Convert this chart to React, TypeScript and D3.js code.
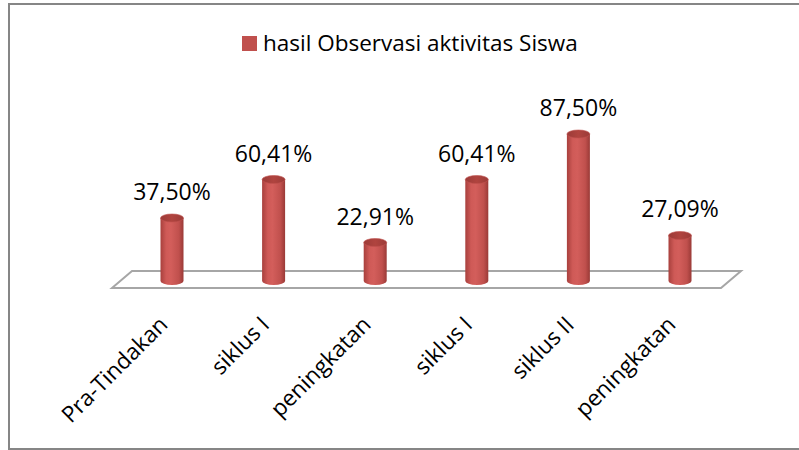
import React from "react";
import * as d3 from "d3";

const categories = ["Pra-Tindakan", "siklus I", "peningkatan", "siklus I", "siklus II", "peningkatan"];
const values = [37.5, 60.41, 22.91, 60.41, 87.5, 27.09];
const valueLabels = ["37,50%", "60,41%", "22,91%", "60,41%", "87,50%", "27,09%"];
const seriesName = "hasil Observasi aktivitas Siswa";

const W = 799;
const H = 450;
const FONT = "'Open Sans', 'Noto Sans', sans-serif";

export default function App() {
  const idx = categories.map((_, i) => i);
  const x = d3.scalePoint<number>().domain(idx).range([172, 680]);
  const y = d3.scaleLinear().domain([0, 100]).range([281, 113]);
  const rx = 11.5;
  const ry = 4;
  const base = y(0);

  // floor parallelogram
  const floor = d3.path();
  floor.moveTo(112, 288);
  floor.lineTo(132, 271);
  floor.lineTo(741, 271);
  floor.lineTo(721, 288);
  floor.closePath();

  return (
    <svg width={W} height={H} style={{ position: "absolute", left: 0, top: 0, background: "#fff" }}>
      <defs>
        <linearGradient id="cyl" x1="0" x2="1" y1="0" y2="0">
          <stop offset="0" stopColor="#a8403d" />
          <stop offset="0.25" stopColor="#cf5a57" />
          <stop offset="0.45" stopColor="#d35e5b" />
          <stop offset="0.8" stopColor="#c0504d" />
          <stop offset="1" stopColor="#9a3a37" />
        </linearGradient>
        <linearGradient id="cylTop" x1="0" x2="1" y1="0" y2="0">
          <stop offset="0" stopColor="#9c3b38" />
          <stop offset="0.5" stopColor="#b0443f" />
          <stop offset="1" stopColor="#9c3b38" />
        </linearGradient>
      </defs>
      <rect x={9} y={4} width={800} height={445} fill="#fff" stroke="#868686" strokeWidth={2} />

      {/* legend */}
      <rect x={242} y={36} width={15} height={15} fill="#c0504d" />
      <text x={263} y={51} fontFamily={FONT} fontSize={22.5} fill="#000">{seriesName}</text>

      {/* floor */}
      <path d={floor.toString()} fill="#fff" stroke="#a6a6a6" strokeWidth={2} />

      {values.map((v, i) => {
        const cx = x(i)!;
        const yt = y(v);
        const body = `M${cx - rx},${yt} L${cx - rx},${base} A${rx},${ry} 0 0 0 ${cx + rx},${base} L${cx + rx},${yt} Z`;
        return (
          <g key={i}>
            <path d={body} fill="url(#cyl)" />
            <ellipse cx={cx} cy={yt} rx={rx} ry={ry} fill="url(#cylTop)" stroke="#c0504d" strokeWidth={0.6} />
            <text x={cx} y={yt - 18} textAnchor="middle" fontFamily={FONT} fontSize={23} fill="#000">
              {valueLabels[i]}
            </text>
          </g>
        );
      })}

      {categories.map((c, i) => {
        const lx = x(i)! - 3;
        const ly = 326;
        return (
          <text key={i} x={lx} y={ly} textAnchor="end" fontFamily={FONT} fontSize={22.5} fill="#000"
            transform={`rotate(-45 ${lx} ${ly})`}>
            {c}
          </text>
        );
      })}
    </svg>
  );
}
